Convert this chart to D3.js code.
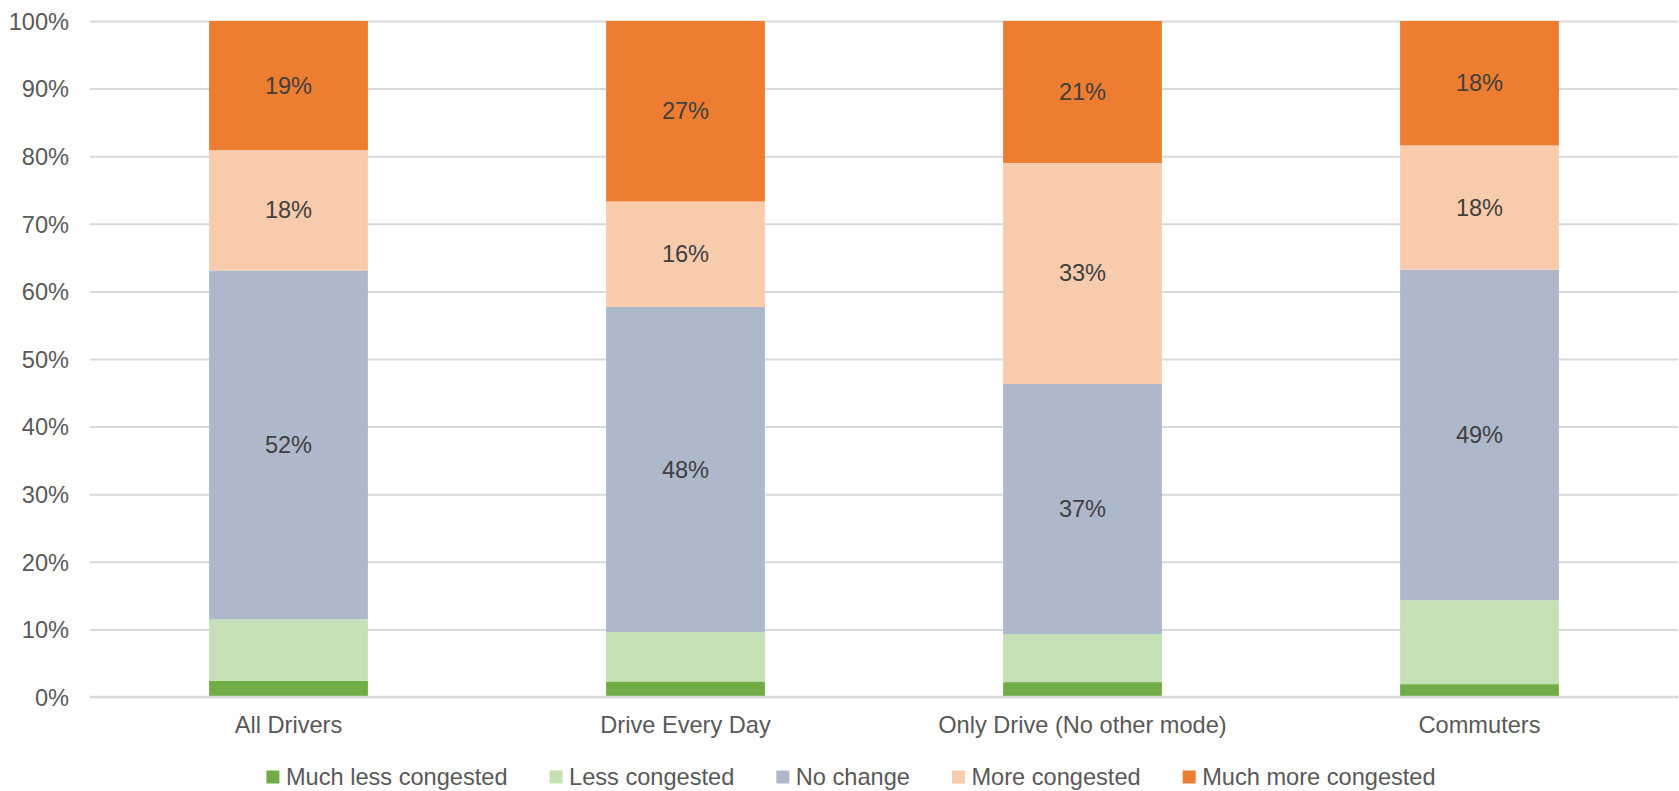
<!DOCTYPE html>
<html>
<head>
<meta charset="utf-8">
<script src="https://cdn.jsdelivr.net/npm/d3@7"></script>
<style>
  html, body { margin: 0; padding: 0; background: #ffffff; }
  svg { display: block; font-family: "Liberation Sans", Arial, sans-serif; }
</style>
</head>
<body>
<svg id="chart" width="1679" height="791"></svg>
<script>
// ---- data ----
const categories = ["All Drivers", "Drive Every Day", "Only Drive (No other mode)", "Commuters"];
const seriesNames = ["Much less congested", "Less congested", "No change", "More congested", "Much more congested"];
const muchLessCongested = [2.4, 2.3, 2.2, 1.9];
const lessCongested = [9.1, 7.3, 7.1, 12.4];
const noChange = [51.6, 48.1, 37.0, 48.9];
const moreCongested = [17.8, 15.6, 32.7, 18.4];
const muchMoreCongested = [19.1, 26.7, 21.0, 18.4];
const yTicks = [0, 10, 20, 30, 40, 50, 60, 70, 80, 90, 100];
const showLabels = [false, false, true, true, true];

const seriesValues = [muchLessCongested, lessCongested, noChange, moreCongested, muchMoreCongested];
const colors = ["#70AD47", "#C5E0B4", "#ADB9CA", "#F8CBAD", "#ED7D31"];

// ---- layout ----
const W = 1679, H = 791;
const plot = { left: 90, right: 1678, top: 21, bottom: 697 };
const FS = 23.6;

const svg = d3.select("#chart");

const x = d3.scaleBand()
  .domain(categories)
  .range([plot.left, plot.right])
  .paddingInner(0.6)
  .paddingOuter(0.3);

const y = d3.scaleLinear().domain([0, 100]).range([plot.bottom, plot.top]);

// table for stacking
const table = categories.map((c, i) => {
  const row = { category: c };
  seriesNames.forEach((s, j) => { row[s] = seriesValues[j][i]; });
  return row;
});
const stacked = d3.stack().keys(seriesNames)(table);

// gridlines
const grid = svg.append("g")
  .attr("transform", `translate(${plot.left},0)`)
  .call(d3.axisLeft(y).tickValues(yTicks.filter(t => t > 0)).tickSize(-(plot.right - plot.left)).tickFormat(""));
grid.select(".domain").remove();
grid.selectAll(".tick line").attr("stroke", "#D9D9D9").attr("stroke-width", 2);

// bars
const layers = svg.append("g").selectAll("g")
  .data(stacked)
  .join("g")
  .attr("fill", (d, i) => colors[i]);

layers.selectAll("rect")
  .data(d => d)
  .join("rect")
  .attr("x", d => x(d.data.category))
  .attr("width", x.bandwidth())
  .attr("y", d => y(d[1]))
  .attr("height", d => y(d[0]) - y(d[1]));

// baseline
svg.append("line")
  .attr("x1", plot.left).attr("x2", plot.right)
  .attr("y1", y(0)).attr("y2", y(0))
  .attr("stroke", "#D9D9D9").attr("stroke-width", 2.5);

// data labels
stacked.forEach((layer, i) => {
  if (!showLabels[i]) return;
  svg.append("g").selectAll("text")
    .data(layer)
    .join("text")
    .attr("x", d => x(d.data.category) + x.bandwidth() / 2)
    .attr("y", d => y((d[0] + d[1]) / 2))
    .attr("text-anchor", "middle")
    .attr("dominant-baseline", "central")
    .attr("font-size", FS)
    .attr("fill", "#404040")
    .text(d => Math.round(d[1] - d[0]) + "%");
});

// y axis labels
const yAxis = svg.append("g")
  .attr("transform", `translate(${plot.left},0)`)
  .call(d3.axisLeft(y).tickValues(yTicks).tickSize(0).tickPadding(21).tickFormat(d => d + "%"));
yAxis.select(".domain").remove();
yAxis.selectAll("text")
  .attr("font-size", FS)
  .attr("font-family", "\"Liberation Sans\", Arial, sans-serif")
  .attr("fill", "#595959")
  .attr("dy", "0.35em");

// x axis labels
const xAxis = svg.append("g")
  .attr("transform", `translate(0,${plot.bottom})`)
  .call(d3.axisBottom(x).tickSize(0).tickPadding(19));
xAxis.select(".domain").remove();
xAxis.selectAll("text")
  .attr("font-size", FS)
  .attr("font-family", "\"Liberation Sans\", Arial, sans-serif")
  .attr("fill", "#595959")
  .attr("dy", "0.71em");

// legend
const legend = svg.append("g");
const sw = 13, swGap = 6.5, itemGap = 42, legendY = 777;
let cx = 0;
const items = [];
seriesNames.forEach((name, i) => {
  const g = legend.append("g");
  g.append("rect")
    .attr("x", 0).attr("y", -sw / 2).attr("width", sw).attr("height", sw)
    .attr("fill", colors[i]);
  const t = g.append("text")
    .attr("x", sw + swGap).attr("y", 0)
    .attr("dominant-baseline", "central")
    .attr("font-size", FS)
    .attr("fill", "#595959")
    .text(name);
  const w = sw + swGap + t.node().getComputedTextLength();
  g.attr("transform", `translate(${cx},${legendY})`);
  items.push(g);
  cx += w + itemGap;
});
const totalW = cx - itemGap;
const legendLeft = 851 - totalW / 2;
legend.attr("transform", `translate(${legendLeft},0)`);
</script>
</body>
</html>
